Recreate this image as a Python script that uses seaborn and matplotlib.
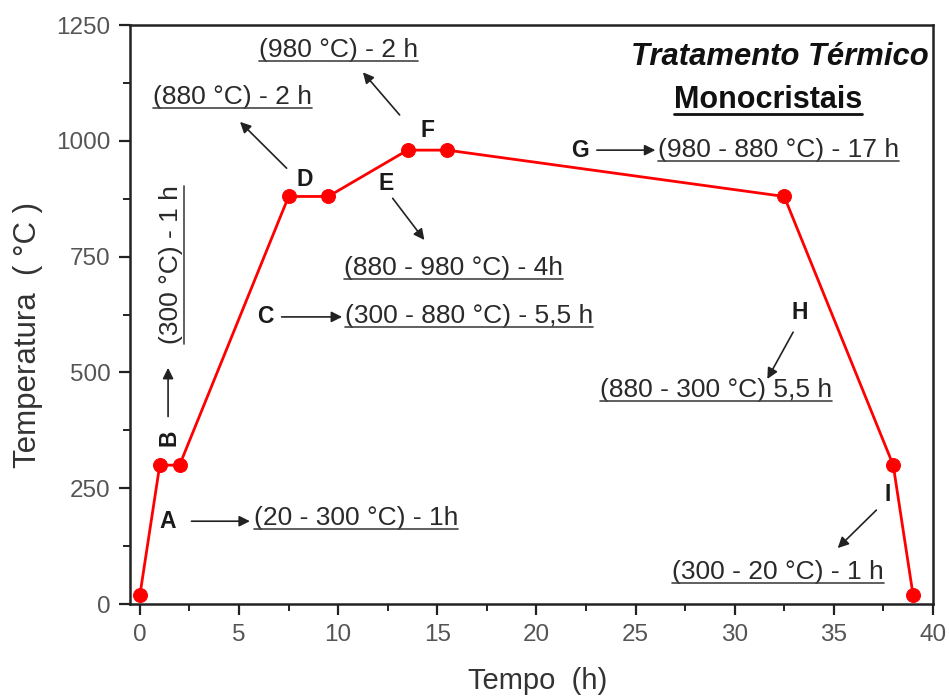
import matplotlib
matplotlib.use("Agg")
import matplotlib.pyplot as plt
import seaborn as sns
import pandas as pd
from matplotlib.lines import Line2D
from matplotlib.ticker import MultipleLocator

# ---- data ----
tempo = [0, 1, 2, 7.5, 9.5, 13.5, 15.5, 32.5, 38, 39]
temperatura = [20, 300, 300, 880, 880, 980, 980, 880, 300, 20]
x_ticks = [0, 5, 10, 15, 20, 25, 30, 35, 40]
y_ticks = [0, 250, 500, 750, 1000, 1250]

# stage letters: (letter, x, y, rotation)
letters = [("A", 1.4, 179, 0), ("B", 1.45, 360, 90), ("C", 6.35, 620, 0),
           ("D", 8.3, 917, 0), ("E", 12.4, 907, 0), ("F", 14.5, 1023, 0),
           ("G", 22.2, 980, 0), ("H", 33.3, 630, 0), ("I", 37.7, 237, 0)]
# descriptions: (text, x, y, rotation)
descs = [("(20 - 300 °C) - 1h", 10.9, 186, 0),
         ("(300 °C) - 1 h", 1.55, 732, 90),
         ("(300 - 880 °C) - 5,5 h", 16.6, 622, 0),
         ("(880 °C) - 2 h", 4.65, 1094, 0),
         ("(880 - 980 °C) - 4h", 15.8, 725, 0),
         ("(980 °C) - 2 h", 10.0, 1196, 0),
         ("(980 - 880 °C) - 17 h", 32.2, 980, 0),
         ("(880 - 300 °C) 5,5 h", 29.05, 462, 0),
         ("(300 - 20 °C) - 1 h", 32.2, 69, 0)]
# arrows: (tail_x, tail_y, head_x, head_y)
arrows = [(2.6, 179, 5.55, 179), (1.42, 405, 1.42, 510),
          (7.15, 620, 10.2, 620), (7.4, 941, 5.05, 1041),
          (12.75, 876, 14.35, 786), (13.1, 1056, 11.25, 1148),
          (23.05, 980, 26.0, 980), (32.95, 587, 31.65, 486),
          (37.15, 203, 35.2, 121)]

sns.set_style("ticks")
plt.rcParams['font.family'] = ['Liberation Sans', 'DejaVu Sans']

fig = plt.figure(figsize=(9.49, 6.96), dpi=100)
ax = fig.add_axes([0.137, 0.132, 0.846, 0.832])

df = pd.DataFrame({"Tempo": tempo, "Temperatura": temperatura})
sns.lineplot(data=df, x="Tempo", y="Temperatura", ax=ax, color="#ff0000",
             linewidth=2.0, marker="o", markersize=10, markeredgecolor="#ff0000",
             markerfacecolor="#ff0000", sort=False)

ax.set_xlim(-0.5, 40)
ax.set_ylim(0, 1250)
ax.set_xticks(x_ticks)
ax.set_yticks(y_ticks)
ax.xaxis.set_minor_locator(MultipleLocator(2.5))
ax.yaxis.set_minor_locator(MultipleLocator(125))
ax.tick_params(which="major", direction="out", length=8, width=1.6,
               labelsize=17.5, labelcolor="#555555", color="#222222", pad=6)
ax.tick_params(which="minor", direction="out", length=5, width=1.4, color="#222222")
for s in ax.spines.values():
    s.set_visible(True)
    s.set_linewidth(1.8)
    s.set_color("#222222")

ax.set_xlabel("Tempo  (h)", fontsize=21, color="#333333")
ax.set_ylabel("Temperatura  ( °C )", fontsize=22.5, color="#333333")
ax.xaxis.set_label_coords(0.508, -0.108)
ax.yaxis.set_label_coords(-0.108, 0.465)

for t, x, y, r in letters:
    ax.text(x, y, t, fontsize=16.5, fontweight="bold", color="#1a1a1a",
            ha="center", va="center", rotation=r)

desc_texts = []
for t, x, y, r in descs:
    desc_texts.append(ax.text(x, y, t, fontsize=19, color="#2a2a2a",
                              ha="center", va="center", rotation=r))

for tx, ty, hx, hy in arrows:
    ax.annotate("", xy=(hx, hy), xytext=(tx, ty),
                arrowprops=dict(arrowstyle="-|>", color="#222222", lw=1.2,
                                mutation_scale=16, shrinkA=0, shrinkB=0))

ax.text(32.3, 1181, "Tratamento Térmico", fontsize=22.3, fontweight="bold",
        fontstyle="italic", color="#111111", ha="center", va="center")
mono = ax.text(31.7, 1088, "Monocristais", fontsize=22, fontweight="bold",
               color="#111111", ha="center", va="center")

fig.canvas.draw()
renderer = fig.canvas.get_renderer()
inv = fig.transFigure.inverted()

def underline(txt, lw=1.2, color="#444444"):
    bb = txt.get_window_extent(renderer)
    if txt.get_rotation() == 90:
        (x0, y0), (x1, y1) = inv.transform([(bb.x1 + 1, bb.y0), (bb.x1 + 1, bb.y1)])
        fig.add_artist(Line2D([x0, x0], [y0, y1], transform=fig.transFigure,
                              color=color, lw=lw))
    else:
        (x0, y0), (x1, y1) = inv.transform([(bb.x0, bb.y0 + 1), (bb.x1, bb.y0 + 1)])
        fig.add_artist(Line2D([x0, x1], [y0, y0], transform=fig.transFigure,
                              color=color, lw=lw))

for t in desc_texts:
    underline(t)
underline(mono, lw=2.0, color="#111111")

fig.savefig("out.png", dpi=100)
